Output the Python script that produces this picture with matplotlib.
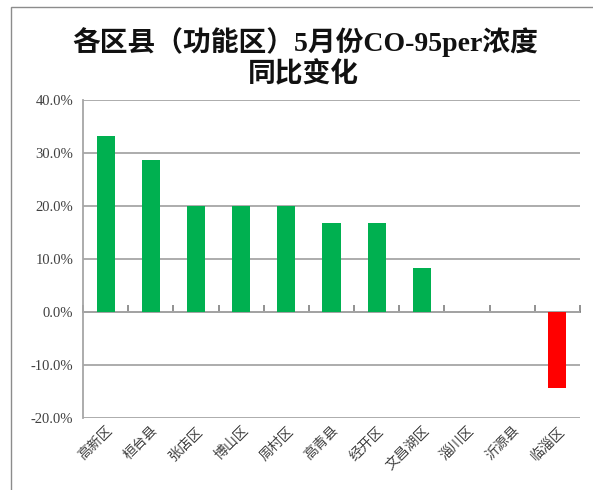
import matplotlib
matplotlib.use("Agg")
import matplotlib.pyplot as plt
from matplotlib.patches import Rectangle
from matplotlib.ticker import FuncFormatter

plt.rcParams['font.family'] = ['Noto Sans CJK SC', 'DejaVu Sans']

categories = ['高新区', '桓台县', '张店区', '博山区', '周村区', '高青县', '经开区', '文昌湖区', '淄川区', '沂源县', '临淄区']
values = [33.3, 28.6, 20.0, 20.0, 20.0, 16.7, 16.7, 8.3, 0.0, 0.0, -14.3]
title_line1 = '各区县（功能区）5月份CO-95per浓度'
title_line2 = '同比变化'
yticks = [-20, -10, 0, 10, 20, 30, 40]

W, H = 593, 490
fig = plt.figure(figsize=(W / 100, H / 100), dpi=100)
fig.patch.set_facecolor('white')

# outer chart-area frame
fig.patches.append(Rectangle((11 / W, -0.1), 1.2, 1 - 7 / H + 0.1, transform=fig.transFigure,
                             fill=False, edgecolor='#8c8c8c', linewidth=1.0))

ax = fig.add_axes([83 / W, 1 - 418 / H, (580 - 83) / W, (418 - 100) / H])

colors = ['#00B050' if v >= 0 else '#FF0000' for v in values]
x = list(range(len(categories)))
ax.bar(x, values, width=0.4, color=colors, zorder=3)

ax.set_xlim(-0.5, len(categories) - 0.5)
ax.set_ylim(-20, 40)
ax.set_yticks(yticks)
ax.yaxis.set_major_formatter(FuncFormatter(lambda v, p: f'{v:.1f}%'))
ax.grid(axis='y', color='#a6a6a6', linewidth=1.3, zorder=0)
ax.set_axisbelow(True)

for s in ['top', 'right', 'bottom']:
    ax.spines[s].set_visible(False)
ax.spines['left'].set_color('#a6a6a6')
ax.spines['left'].set_linewidth(1.3)

ax.tick_params(axis='y', length=0, pad=7, labelsize=10.5, colors='#404040')
for lab in ax.get_yticklabels():
    lab.set_fontfamily(['Liberation Serif', 'DejaVu Serif'])

ax.set_xticks(x)
ax.set_xticklabels(categories, rotation=45, ha='right', rotation_mode='anchor',
                   fontsize=10, color='#404040')
ax.tick_params(axis='x', length=0, pad=4)

# zero axis with inward category-boundary ticks
zero_frac = (0 - (-20)) / (40 - (-20))
sec = ax.secondary_xaxis(zero_frac)
sec.set_xticks([i - 0.5 for i in range(len(categories) + 1)])
sec.set_xticklabels([])
sec.tick_params(axis='x', direction='in', length=5, width=1.2, color='#7f7f7f')
sec.spines['bottom'].set_color('#7f7f7f')
sec.spines['bottom'].set_linewidth(1.3)
sec.spines['top'].set_color('#7f7f7f')
sec.spines['top'].set_linewidth(1.3)

title_font = ['Liberation Serif', 'Noto Sans CJK SC']
fig.text(305 / W, 1 - 42 / H, title_line1, ha='center', va='center', fontsize=20,
         fontweight='bold', family=title_font, color='#111111')
fig.text(303 / W, 1 - 75 / H, title_line2, ha='center', va='center', fontsize=20,
         fontweight='bold', family=title_font, color='#111111')

fig.savefig('out.png', dpi=100, facecolor='white')
